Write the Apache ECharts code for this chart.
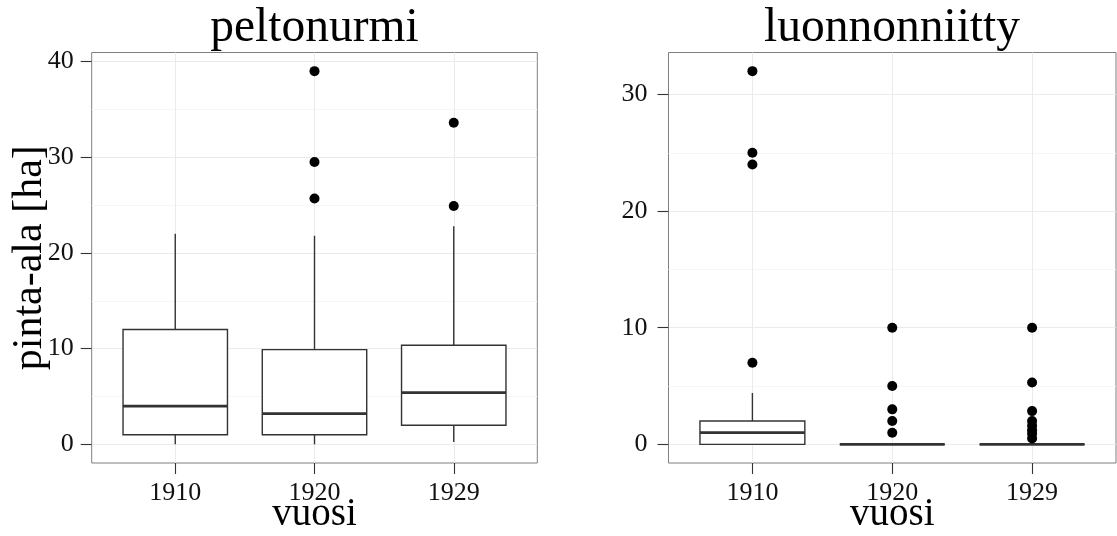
<!DOCTYPE html>
<html>
<head>
<meta charset="utf-8">
<title>pinta-ala</title>
<script src="https://cdn.jsdelivr.net/npm/echarts@6/dist/echarts.min.js"></script>
<style>
  html, body { margin: 0; padding: 0; background: #fff; }
  #chart { width: 1117px; height: 536px; }
</style>
</head>
<body>
<div id="chart"></div>
<script>
// Years on the horizontal axis (positions 1, 2, 3)
const years = ['1910', '1920', '1929'];
const yTicksPelto = [0, 10, 20, 30, 40];
const yTicksNiitty = [0, 10, 20, 30];
const yMinorPelto = [5, 15, 25, 35];
const yMinorNiitty = [5, 15, 25];

// Box statistics per year: [lower whisker, Q1, median, Q3, upper whisker]
const peltoStats = [
  [0, 1, 4, 12, 22],
  [0, 1, 3.2, 9.9, 21.8],
  [0.25, 2, 5.4, 10.35, 22.8]
];
const peltoOutliers = [
  [],
  [39, 29.5, 25.7],
  [33.6, 24.9]
];
const niittyStats = [
  [0, 0, 1, 2, 4.4],
  [0, 0, 0, 0, 0],
  [0, 0, 0, 0, 0]
];
const niittyOutliers = [
  [32, 25, 24, 7],
  [10, 5, 3, 2, 1],
  [10, 5.3, 2.85, 2, 1.6, 1.2, 0.9, 0.5]
];

const FONT = 'Liberation Serif';
const BOX_WIDTH = 0.75;

function renderBox(params, api) {
  const x = api.value(0);
  const pLo = api.coord([x, api.value(1)]);
  const pQ1 = api.coord([x, api.value(2)]);
  const pMed = api.coord([x, api.value(3)]);
  const pQ3 = api.coord([x, api.value(4)]);
  const pHi = api.coord([x, api.value(5)]);
  const half = api.size([BOX_WIDTH, 0])[0] / 2;
  const cx = pMed[0];
  const line = { stroke: '#333333', lineWidth: 1.4 };
  return {
    type: 'group',
    children: [
      { type: 'line', shape: { x1: cx, y1: pQ3[1], x2: cx, y2: pHi[1] }, style: line },
      { type: 'line', shape: { x1: cx, y1: pQ1[1], x2: cx, y2: pLo[1] }, style: line },
      { type: 'rect', shape: { x: cx - half, y: pQ3[1], width: 2 * half, height: pQ1[1] - pQ3[1] },
        style: { fill: '#ffffff', stroke: '#333333', lineWidth: 1.4 } },
      { type: 'line', shape: { x1: cx - half, y1: pMed[1], x2: cx + half, y2: pMed[1] },
        style: { stroke: '#333333', lineWidth: 2.8 } }
    ]
  };
}

function boxData(stats) {
  return stats.map((s, i) => [i + 1].concat(s));
}
function outlierData(outs) {
  const out = [];
  outs.forEach((vals, i) => vals.forEach(v => out.push([i + 1, v])));
  return out;
}

const tickLabelStyle = { fontFamily: FONT, fontSize: 26, color: '#111' };

function xAxisFor(gridIndex) {
  return {
    type: 'value', gridIndex: gridIndex, min: 0.4, max: 3.6,
    name: 'vuosi', nameLocation: 'middle', nameGap: 32, nameMoveOverlap: false,
    nameTextStyle: { fontFamily: FONT, fontSize: 39, color: '#000' },
    axisLine: { show: false, onZero: false },
    axisTick: { show: true, length: 11, customValues: [1, 2, 3], lineStyle: { color: '#333', width: 1.1 } },
    axisLabel: { show: true, margin: 17, customValues: [1, 2, 3], ...tickLabelStyle,
      formatter: v => years[Math.round(v) - 1] || '' },
    splitLine: { show: true, lineStyle: { color: '#ebebeb', width: 1 } }
  };
}

function yAxisFor(gridIndex, min, max, ticks, margin, withName) {
  const ax = {
    type: 'value', gridIndex: gridIndex, min: min, max: max, position: 'left',
    axisLine: { show: false, onZero: false },
    axisTick: { show: true, length: 11, customValues: ticks, lineStyle: { color: '#333', width: 1.1 } },
    axisLabel: { show: true, margin: margin, customValues: ticks, ...tickLabelStyle },
    splitLine: { show: true, lineStyle: { color: '#ebebeb', width: 1 } }
  };
  if (withName) {
    Object.assign(ax, {
      name: 'pinta-ala [ha]', nameLocation: 'middle', nameRotate: 90, nameGap: 41,
      nameMoveOverlap: false,
      nameTextStyle: { fontFamily: FONT, fontSize: 42, color: '#000' }
    });
  }
  return ax;
}

function minorAxisFor(gridIndex, min, max, ticks) {
  return {
    type: 'value', gridIndex: gridIndex, min: min, max: max, position: 'left',
    axisLine: { show: false, onZero: false },
    axisTick: { show: false, customValues: ticks },
    axisLabel: { show: false, customValues: ticks },
    splitLine: { show: true, lineStyle: { color: '#f6f6f6', width: 1 } }
  };
}

const panelTop = 52.5, panelHeight = 410.5;
const titleStyle = { fontFamily: FONT, fontSize: 47.5, fontWeight: 'normal', color: '#000' };

const option = {
  backgroundColor: '#ffffff',
  animation: false,
  title: [
    { text: 'peltonurmi', left: 309.5, top: 0, textAlign: 'center', textStyle: titleStyle },
    { text: 'luonnonniitty', left: 887, top: 0, textAlign: 'center', textStyle: titleStyle }
  ],
  grid: [
    { left: 91.7, top: panelTop, width: 445.6, height: panelHeight, outerBoundsMode: 'none',
      containLabel: false,
      show: true, backgroundColor: '#fff', borderColor: '#7f7f7f', borderWidth: 1 },
    { left: 668.5, top: panelTop, width: 447.5, height: panelHeight, outerBoundsMode: 'none',
      containLabel: false,
      show: true, backgroundColor: '#fff', borderColor: '#7f7f7f', borderWidth: 1 }
  ],
  xAxis: [xAxisFor(0), xAxisFor(1)],
  yAxis: [
    yAxisFor(0, -1.95, 40.95, yTicksPelto, 18, true),
    yAxisFor(1, -1.6, 33.6, yTicksNiitty, 21, false),
    minorAxisFor(0, -1.95, 40.95, yMinorPelto),
    minorAxisFor(1, -1.6, 33.6, yMinorNiitty)
  ],
  series: [
    { type: 'custom', xAxisIndex: 0, yAxisIndex: 0, renderItem: renderBox,
      encode: { x: 0, y: [1, 2, 3, 4, 5] }, data: boxData(peltoStats), z: 2 },
    { type: 'scatter', xAxisIndex: 0, yAxisIndex: 0, symbol: 'circle', symbolSize: 10,
      itemStyle: { color: '#000', opacity: 1 }, data: outlierData(peltoOutliers), z: 3 },
    { type: 'custom', xAxisIndex: 1, yAxisIndex: 1, renderItem: renderBox,
      encode: { x: 0, y: [1, 2, 3, 4, 5] }, data: boxData(niittyStats), z: 2 },
    { type: 'scatter', xAxisIndex: 1, yAxisIndex: 1, symbol: 'circle', symbolSize: 10,
      itemStyle: { color: '#000', opacity: 1 }, data: outlierData(niittyOutliers), z: 3 }
  ]
};

const chart = echarts.init(document.getElementById('chart'), null, { renderer: 'canvas' });
chart.setOption(option);
</script>
</body>
</html>
